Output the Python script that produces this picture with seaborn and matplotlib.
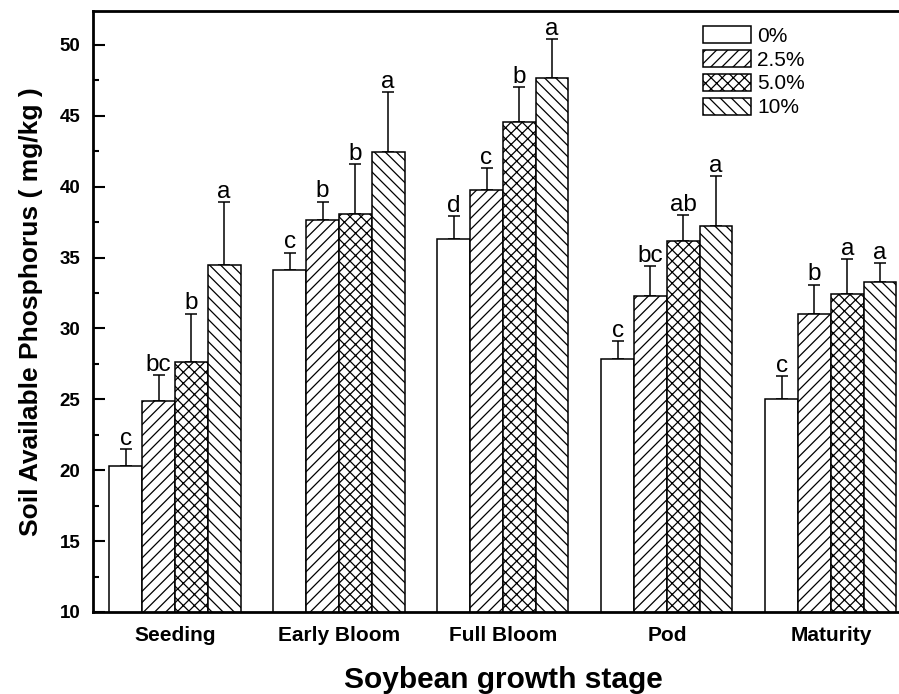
import numpy as np
import pandas as pd
import matplotlib
matplotlib.use("Agg")
import matplotlib.pyplot as plt
from matplotlib.ticker import MultipleLocator
import seaborn as sns

# values (mean and upper error per stage)
stages = ["Seeding", "Early Bloom", "Full Bloom", "Pod", "Maturity"]
levels = ["0%", "2.5%", "5.0%", "10%"]

means_0 = [20.3, 34.1, 36.3, 27.85, 25.05]
means_25 = [24.85, 37.65, 39.75, 32.3, 31.0]
means_50 = [27.6, 38.1, 44.6, 36.15, 32.4]
means_10 = [34.5, 42.45, 47.65, 37.2, 33.3]

err_0 = [1.2, 1.25, 1.65, 1.25, 1.6]
err_25 = [1.85, 1.3, 1.55, 2.1, 2.1]
err_50 = [3.45, 3.5, 2.45, 1.85, 2.5]
err_10 = [4.4, 4.2, 2.75, 3.55, 1.3]

letters_0 = ["c", "c", "d", "c", "c"]
letters_25 = ["bc", "b", "c", "bc", "b"]
letters_50 = ["b", "b", "b", "ab", "a"]
letters_10 = ["a", "a", "a", "a", "a"]

hatches = ["", "///", "xxx", "\\\\\\"]

means = [means_0, means_25, means_50, means_10]
errs = [err_0, err_25, err_50, err_10]
letters = [letters_0, letters_25, letters_50, letters_10]

df = pd.DataFrame({
    "stage": stages * len(levels),
    "level": np.repeat(levels, len(stages)),
    "value": np.concatenate(means),
})

plt.rcParams["font.family"] = ["Liberation Sans", "DejaVu Sans"]
plt.rcParams["hatch.linewidth"] = 0.9

fig = plt.figure(figsize=(8.99, 6.94), dpi=100)
ax = fig.add_axes([0.1034, 0.1182, 0.912, 0.866])

sns.barplot(
    data=df, x="stage", y="value", hue="level",
    order=stages, hue_order=levels,
    palette=["white"] * len(levels),
    edgecolor="black", linewidth=1.1,
    errorbar=None, width=0.8, legend=False, ax=ax,
)

bar_groups = list(ax.containers[:len(levels)])
for i, cont in enumerate(bar_groups):
    xs = [p.get_x() + p.get_width() / 2 for p in cont.patches]
    hs = [p.get_height() for p in cont.patches]
    for p in cont.patches:
        p.set_hatch(hatches[i])
        p.set_zorder(2)
    ax.errorbar(xs, hs, yerr=[np.zeros(len(hs)), errs[i]], fmt="none",
                ecolor="black", elinewidth=1.1, capsize=4.2, capthick=1.1, zorder=1)
    for x, h, e, lab in zip(xs, hs, errs[i], letters[i]):
        ax.annotate(lab, (x, h + e), xytext=(0, 3), textcoords="offset points",
                    ha="center", va="baseline", fontsize=17.5)

ax.set_xlim(-0.5, 4.5)
ax.set_ylim(10, 52.4)
ax.yaxis.set_major_locator(MultipleLocator(5))
ax.yaxis.set_minor_locator(MultipleLocator(2.5))
ax.tick_params(axis="y", which="major", direction="in", length=8.5, width=1.5,
               labelsize=13.5, pad=9)
ax.tick_params(axis="y", which="minor", direction="in", length=4.5, width=1.5)
ax.tick_params(axis="x", length=0, labelsize=15, pad=10)
for lbl in ax.get_xticklabels() + ax.get_yticklabels():
    lbl.set_fontweight("bold")

for side in ["left", "bottom", "top", "right"]:
    ax.spines[side].set_linewidth(2.0)

ax.set_xlabel("Soybean growth stage", fontsize=21.5, fontweight="bold", labelpad=15)
ax.set_ylabel("Soil Available Phosphorus ( mg/kg )", fontsize=19, fontweight="bold",
              labelpad=12)

leg = ax.legend(bar_groups, levels, loc="upper left", bbox_to_anchor=(0.744, 0.975),
                frameon=False, fontsize=15, handlelength=2.3, handleheight=0.88,
                handletextpad=0.3, labelspacing=0.2, borderpad=0, borderaxespad=0)

fig.savefig("out.png", dpi=100)
